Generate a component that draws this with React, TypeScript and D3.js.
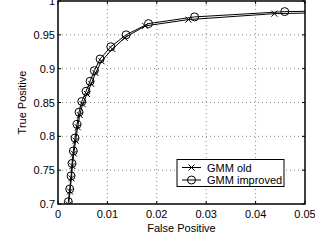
import React from "react";
import * as d3 from "d3";

const xTicks = [0, 0.01, 0.02, 0.03, 0.04, 0.05];
const yTicks = [0.7, 0.75, 0.8, 0.85, 0.9, 0.95, 1];
const xTickLabels = ["0", "0.01", "0.02", "0.03", "0.04", "0.05"];
const yTickLabels = ["0.7", "0.75", "0.8", "0.85", "0.9", "0.95", "1"];

const improvedFP = [0.00209, 0.00237, 0.00264, 0.00284, 0.0031, 0.00345, 0.00385, 0.00426, 0.00481, 0.00568, 0.00649, 0.00736, 0.00852, 0.01069, 0.01379, 0.01832, 0.02765, 0.0459, 0.07];
const improvedTP = [0.7034, 0.7221, 0.7416, 0.7599, 0.7784, 0.7975, 0.8176, 0.8357, 0.8515, 0.8666, 0.8813, 0.8971, 0.9143, 0.9324, 0.95, 0.9666, 0.9765, 0.9843, 0.9868];

const oldFP = [0.00215, 0.00243, 0.00272, 0.00292, 0.0032, 0.00357, 0.00398, 0.0044, 0.00498, 0.00588, 0.00672, 0.0076, 0.0088, 0.011, 0.0135, 0.01765, 0.0264, 0.0438, 0.07];
const oldTP = [0.6995, 0.7185, 0.738, 0.756, 0.7745, 0.7935, 0.8135, 0.8315, 0.8475, 0.8625, 0.8775, 0.8935, 0.911, 0.929, 0.9455, 0.9632, 0.9725, 0.9813, 0.9848];

const seriesNames = ["GMM old", "GMM improved"];

export default function App() {
  const W = 315, H = 242;
  const L = 58, R = 305, T = 1, B = 204;
  const x = d3.scaleLinear().domain([0, 0.05]).range([L, R]);
  const y = d3.scaleLinear().domain([0.7, 1]).range([B, T]);
  const line = d3.line<[number, number]>().x(d => x(d[0])).y(d => y(d[1]));
  const oldPts: [number, number][] = oldFP.map((v, i) => [v, oldTP[i]]);
  const impPts: [number, number][] = improvedFP.map((v, i) => [v, improvedTP[i]]);
  const font = "Liberation Sans, Arial, sans-serif";
  const fs = 11;
  const cs = 3;
  return (
    <svg width={W} height={H} style={{ position: "absolute", left: 0, top: 0, background: "#fff" }} fontFamily={font}>
      <rect x={0} y={0} width={W} height={H} fill="#fff" />
      <defs>
        <clipPath id="plot">
          <rect x={L} y={T} width={R - L} height={B - T} />
        </clipPath>
      </defs>
      {/* grid */}
      {xTicks.slice(1, -1).map((t, i) => (
        <line key={"gx" + i} x1={x(t)} x2={x(t)} y1={T} y2={B} stroke="#888" strokeWidth={1} strokeDasharray="1,3" />
      ))}
      {yTicks.slice(1, -1).map((t, i) => (
        <line key={"gy" + i} x1={L} x2={R} y1={y(t)} y2={y(t)} stroke="#888" strokeWidth={1} strokeDasharray="1,3" />
      ))}
      {/* ticks */}
      {xTicks.map((t, i) => (
        <g key={"tx" + i}>
          <line x1={x(t)} x2={x(t)} y1={B} y2={B - 3} stroke="#000" />
          <line x1={x(t)} x2={x(t)} y1={T} y2={T + 3} stroke="#000" />
          <text x={x(t)} y={218} fontSize={fs} textAnchor="middle" fill="#000">{xTickLabels[i]}</text>
        </g>
      ))}
      {yTicks.map((t, i) => (
        <g key={"ty" + i}>
          <line x1={L} x2={L + 3} y1={y(t)} y2={y(t)} stroke="#000" />
          <line x1={R} x2={R - 3} y1={y(t)} y2={y(t)} stroke="#000" />
          <text x={L - 3} y={y(t) + 4} fontSize={fs} textAnchor="end" fill="#000">{yTickLabels[i]}</text>
        </g>
      ))}
      {/* series */}
      <g clipPath="url(#plot)">
        <path d={line(oldPts) || ""} fill="none" stroke="#000" strokeWidth={1} />
        {oldPts.map((p, i) => (
          <g key={"o" + i} stroke="#000" strokeWidth={1}>
            <line x1={x(p[0]) - cs} x2={x(p[0]) + cs} y1={y(p[1]) - cs} y2={y(p[1]) + cs} />
            <line x1={x(p[0]) - cs} x2={x(p[0]) + cs} y1={y(p[1]) + cs} y2={y(p[1]) - cs} />
          </g>
        ))}
        <path d={line(impPts) || ""} fill="none" stroke="#000" strokeWidth={1} />
        {impPts.map((p, i) => (
          <circle key={"c" + i} cx={x(p[0])} cy={y(p[1])} r={4} fill="none" stroke="#000" strokeWidth={1} />
        ))}
      </g>
      {/* box */}
      <rect x={L} y={T} width={R - L} height={B - T} fill="none" stroke="#000" strokeWidth={1.5} />
      {/* labels */}
      <text x={(L + R) / 2} y={232} fontSize={fs} textAnchor="middle" fill="#000">False Positive</text>
      <text transform={`translate(26,${(T + B) / 2}) rotate(-90)`} fontSize={fs} textAnchor="middle" fill="#000">True Positive</text>
      {/* legend */}
      <g>
        <rect x={177} y={159.5} width={107} height={27} fill="#fff" stroke="#000" strokeWidth={1} />
        {seriesNames.map((n, i) => {
          const ly = 167.5 + i * 12.5;
          return (
            <g key={"l" + i}>
              <line x1={182} x2={201} y1={ly} y2={ly} stroke="#000" />
              {i === 0 ? (
                <g stroke="#000">
                  <line x1={191.5 - cs} x2={191.5 + cs} y1={ly - cs} y2={ly + cs} />
                  <line x1={191.5 - cs} x2={191.5 + cs} y1={ly + cs} y2={ly - cs} />
                </g>
              ) : (
                <circle cx={191.5} cy={ly} r={4} fill="none" stroke="#000" />
              )}
              <text x={207} y={ly + 4} fontSize={fs} fill="#000">{n}</text>
            </g>
          );
        })}
      </g>
    </svg>
  );
}
